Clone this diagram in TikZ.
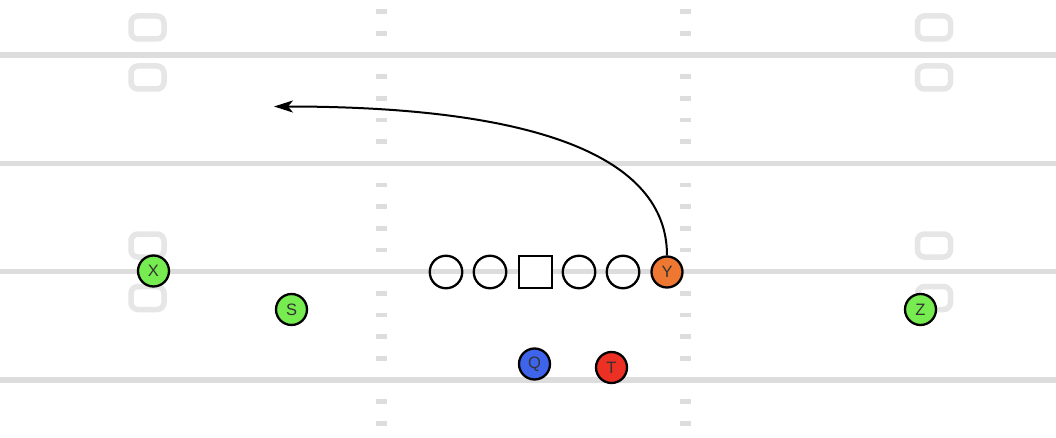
\documentclass[tikz,border=0pt]{standalone}
\usepackage{fontspec}
\newfontfamily\lab{Liberation Sans}
\usetikzlibrary{arrows.meta}
\definecolor{fieldline}{HTML}{DDDDDD}
\definecolor{numgray}{HTML}{E6E6E6}
\definecolor{pgreen}{RGB}{118,236,80}
\definecolor{porange}{RGB}{238,120,50}
\definecolor{pblue}{RGB}{62,100,236}
\definecolor{pred}{RGB}{236,48,36}
\definecolor{ptext}{HTML}{333333}
\tikzset{
  yardline/.style={fieldline, line width=5.5pt},
  hashmark/.style={fill=fieldline, draw=none},
  numbox/.style={draw=numgray, line width=5.5pt, rounded corners=7pt},
  lineman/.style={circle, draw=black, line width=2.3pt, minimum size=32.5pt, inner sep=0pt},
  center/.style={rectangle, draw=black, fill=white, line width=2.3pt, minimum size=32.5pt, inner sep=0pt},
  player/.style={circle, draw=black, line width=2.3pt, minimum size=31pt, inner sep=0pt,
    font=\lab\fontsize{16.5}{16.5}\selectfont, text=ptext},
  route/.style={black, line width=2pt, -{Stealth[length=19pt, width=12pt, inset=5pt]}}
}
\begin{document}
\begin{tikzpicture}[x=1pt, y=-1pt]
\useasboundingbox (0,0) rectangle (1056,438);
\fill[white] (0,0) rectangle (1056,438);
% yard lines
\foreach \yy in {55,163.3,271.7,380} {
  \draw[yardline] (0,\yy) -- (1056,\yy);
}
% hash marks
\foreach \yy in {55,163.3,271.7,380} {
  \foreach \k in {-2,-1,1,2} {
    \fill[hashmark] (375.5,{\yy+\k*21.67-2.3}) rectangle (387,{\yy+\k*21.67+2.3});
    \fill[hashmark] (679.5,{\yy+\k*21.67-2.3}) rectangle (691,{\yy+\k*21.67+2.3});
  }
}
% numbers (rounded boxes)
\foreach \xx in {147.5,934} {
  \foreach \yy in {27.5,77.5,245.5,298} {
    \draw[numbox] ({\xx-16.5},{\yy-11.5}) rectangle ({\xx+16.5},{\yy+11.5});
  }
}
% offensive line
\node[lineman] (lt) at (446,272) {};
\node[lineman] (lg) at (490,272) {};
\node[center] (c) at (535.5,272) {};
\node[lineman] (rg) at (579,272) {};
\node[lineman] (rt) at (623,272) {};
\node[player, fill=porange] (y) at (667,272) {Y};
% skill players
\node[player, fill=pgreen] (x) at (153.5,271) {X};
\node[player, fill=pgreen] (s) at (291.5,309.5) {S};
\node[player, fill=pgreen] (z) at (920.5,309.5) {Z};
\node[player, fill=pblue] (q) at (534.5,364) {Q};
\node[player, fill=pred] (t) at (611.5,367.5) {T};
% route
\coordinate (yend) at (274,106.5);
\draw[route] (y.north) .. controls (667,156.3) and (535,106.5) .. (yend);
\end{tikzpicture}
\end{document}
